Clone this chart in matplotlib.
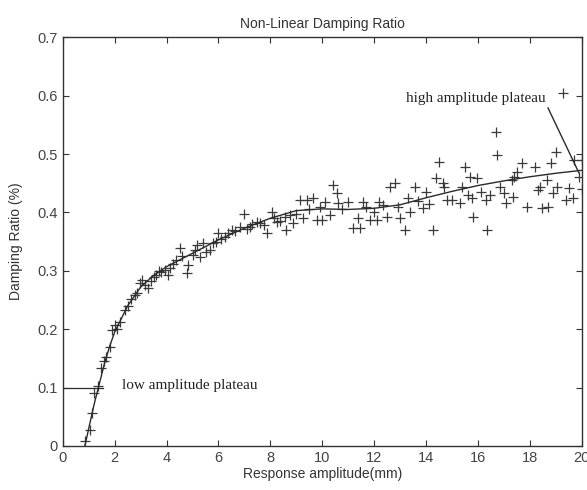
import matplotlib
matplotlib.use("Agg")
import matplotlib.pyplot as plt

# measured points (Response amplitude mm, damping ratio %)
x_pts = [0.85, 1.04, 1.13, 1.21, 1.36, 1.49, 1.60, 1.68, 1.81, 1.88, 2.00, 2.10, 2.20, 2.39, 2.50,
         2.62, 2.77, 2.85, 2.97, 3.05, 3.16, 3.28, 3.40, 3.50, 3.61, 3.70, 3.80, 3.93, 4.05, 4.15,
         4.25, 4.38, 4.50, 4.60, 4.77, 4.82, 5.00, 5.10, 5.16, 5.28, 5.40, 5.50, 5.66, 5.78, 5.90,
         5.98, 6.10, 6.24, 6.35, 6.51, 6.65, 6.82, 7.00, 7.10, 7.20, 7.30, 7.47, 7.60, 7.75, 7.86,
         8.05, 8.15, 8.24, 8.36, 8.55, 8.62, 8.75, 8.87, 9.00, 9.13, 9.25, 9.40, 9.50, 9.64, 9.78,
         9.90, 10.00, 10.10, 10.30, 10.40, 10.55, 10.60, 10.75, 11.00, 11.20, 11.38, 11.45, 11.57,
         11.70, 11.83, 12.00, 12.10, 12.20, 12.35, 12.48, 12.60, 12.80, 12.90, 13.00, 13.20, 13.30,
         13.37, 13.56, 13.70, 13.87, 14.00, 14.10, 14.27, 14.40, 14.50, 14.65, 14.70, 14.80, 15.00,
         15.30, 15.40, 15.50, 15.60, 15.70, 15.76, 15.80, 15.95, 16.10, 16.30, 16.35, 16.45, 16.70,
         16.72, 16.84, 17.00, 17.10, 17.30, 17.35, 17.40, 17.50, 17.70, 17.90, 18.20, 18.30, 18.40,
         18.45, 18.65, 18.70, 18.80, 18.90, 19.00, 19.05, 19.27, 19.40, 19.50, 19.65, 19.70, 19.90,
         20.00, 20.00]
y_pts = [0.009, 0.027, 0.056, 0.090, 0.103, 0.133, 0.145, 0.153, 0.170, 0.199, 0.207, 0.200, 0.213,
         0.233, 0.240, 0.251, 0.258, 0.262, 0.279, 0.285, 0.275, 0.270, 0.282, 0.290, 0.293, 0.300,
         0.298, 0.301, 0.293, 0.305, 0.312, 0.318, 0.339, 0.325, 0.296, 0.310, 0.327, 0.335, 0.344,
         0.323, 0.347, 0.332, 0.335, 0.347, 0.350, 0.364, 0.355, 0.358, 0.365, 0.370, 0.368, 0.375,
         0.398, 0.372, 0.375, 0.380, 0.384, 0.381, 0.378, 0.364, 0.400, 0.390, 0.384, 0.386, 0.392,
         0.370, 0.395, 0.381, 0.398, 0.421, 0.390, 0.421, 0.405, 0.424, 0.387, 0.410, 0.387, 0.418,
         0.395, 0.447, 0.433, 0.416, 0.405, 0.418, 0.373, 0.390, 0.373, 0.418, 0.410, 0.387, 0.400,
         0.387, 0.418, 0.412, 0.392, 0.443, 0.450, 0.409, 0.390, 0.370, 0.424, 0.401, 0.443, 0.420,
         0.407, 0.435, 0.415, 0.370, 0.459, 0.486, 0.450, 0.443, 0.421, 0.421, 0.416, 0.443, 0.478,
         0.430, 0.461, 0.424, 0.392, 0.459, 0.435, 0.421, 0.370, 0.430, 0.537, 0.498, 0.443, 0.433,
         0.416, 0.455, 0.426, 0.461, 0.469, 0.484, 0.409, 0.477, 0.438, 0.443, 0.407, 0.455, 0.409,
         0.484, 0.433, 0.503, 0.443, 0.604, 0.421, 0.441, 0.424, 0.490, 0.461, 0.490, 0.440]

# fitted curve
fit_x = [0.85, 1.0, 1.2, 1.4, 1.6, 1.8, 2.0, 2.5, 3.0, 3.5, 4.0, 5.0, 6.0, 7.0, 8.0, 9.0, 10.0,
         11.0, 12.0, 13.0, 14.0, 15.0, 16.0, 17.0, 18.0, 19.0, 20.0]
fit_y = [0.0, 0.03, 0.07, 0.105, 0.14, 0.17, 0.195, 0.24, 0.272, 0.292, 0.307, 0.33, 0.353, 0.373,
         0.39, 0.403, 0.406, 0.405, 0.407, 0.413, 0.425, 0.436, 0.446, 0.454, 0.461, 0.467, 0.472]

low_plateau_x = [0, 1.55]
low_plateau_y = [0.1, 0.1]

x_ticks = [0, 2, 4, 6, 8, 10, 12, 14, 16, 18, 20]
y_ticks = [0, 0.1, 0.2, 0.3, 0.4, 0.5, 0.6, 0.7]
y_tick_labels = ["0", "0.1", "0.2", "0.3", "0.4", "0.5", "0.6", "0.7"]

ink = "#333333"
plt.rcParams['font.family'] = ['Liberation Sans', 'DejaVu Sans']

fig = plt.figure(figsize=(5.87, 4.90), dpi=100)
ax = fig.add_axes([0.107, 0.09, 0.884, 0.834])

ax.plot(x_pts, y_pts, linestyle='none', marker='+', markersize=7.5, markeredgewidth=0.9,
        color="#3a3a3a")
ax.plot(fit_x, fit_y, color="#2a2a2a", linewidth=1.0)
ax.plot(low_plateau_x, low_plateau_y, color="#2a2a2a", linewidth=0.9)

serif = ['Liberation Serif', 'DejaVu Serif']
ax.text(2.3, 0.103, "low amplitude plateau", family=serif, fontsize=11, color="#222222",
        va='center', ha='left')
ax.annotate("high amplitude plateau", xy=(19.9, 0.467), xytext=(18.6, 0.595),
            family=serif, fontsize=11, color="#222222", ha='right', va='center',
            arrowprops=dict(arrowstyle='-', color="#2a2a2a", linewidth=1.0,
                            shrinkA=0, shrinkB=0, relpos=(1.0, 0.2)))

ax.set_xlim(0, 20)
ax.set_ylim(0, 0.7)
ax.set_xticks(x_ticks)
ax.set_yticks(y_ticks)
ax.set_yticklabels(y_tick_labels)
ax.tick_params(direction='in', top=True, right=True, length=4, width=0.8, colors=ink,
               labelsize=10.5, labelcolor="#444444", pad=4)
for s in ax.spines.values():
    s.set_color(ink)
    s.set_linewidth(1.0)

ax.set_title("Non-Linear Damping Ratio", fontsize=10, color=ink, pad=7)
ax.set_xlabel("Response amplitude(mm)", fontsize=10, color=ink, labelpad=1)
ax.set_ylabel("Damping Ratio (%)", fontsize=10, color=ink, labelpad=10)

fig.savefig("out.png", dpi=100)
